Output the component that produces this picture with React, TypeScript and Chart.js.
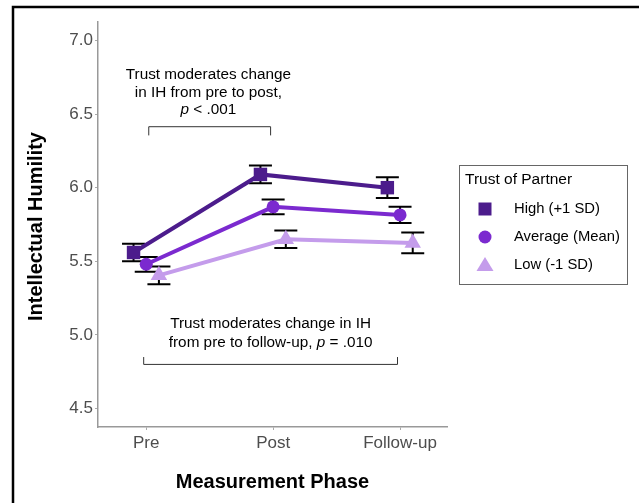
import React, { useEffect, useRef } from "react";
import { Chart, registerables } from "chart.js";

Chart.register(...registerables);

const phases = ["Pre", "Post", "Follow-up"];
const seriesNames = ["High (+1 SD)", "Average (Mean)", "Low (-1 SD)"];
const highMeans = [5.56, 6.09, 6.0];
const highErr = [0.06, 0.06, 0.07];
const avgMeans = [5.48, 5.87, 5.815];
const avgErr = [0.05, 0.05, 0.055];
const lowMeans = [5.405, 5.65, 5.625];
const lowErr = [0.06, 0.06, 0.07];
const yTicks = [4.5, 5.0, 5.5, 6.0, 6.5, 7.0];
const dodge = [-0.1, 0, 0.1];
const colors = ["#4C1C8C", "#7B2ACF", "#C49CEB"];
const pointStyles = ["rect", "circle", "triangle"];
const pointRadii = [9.5, 6.5, 9.5];

const FONT = "'Liberation Sans', Arial, sans-serif";

type Seg = { t: string; italic?: boolean };

function drawSegs(ctx: CanvasRenderingContext2D, segs: Seg[], cx: number, y: number, size: number) {
  const widths = segs.map((s) => {
    ctx.font = `${s.italic ? "italic " : ""}${size}px ${FONT}`;
    return ctx.measureText(s.t).width;
  });
  const total = widths.reduce((a, b) => a + b, 0);
  let x = cx - total / 2;
  ctx.textAlign = "left";
  ctx.textBaseline = "middle";
  segs.forEach((s, i) => {
    ctx.font = `${s.italic ? "italic " : ""}${size}px ${FONT}`;
    ctx.fillText(s.t, x, y);
    x += widths[i];
  });
}

export default function App() {
  const ref = useRef<HTMLCanvasElement | null>(null);

  useEffect(() => {
    if (!ref.current) return;
    const means = [highMeans, avgMeans, lowMeans];
    const errs = [highErr, avgErr, lowErr];

    const datasets = seriesNames.map((name, s) => ({
      label: name,
      data: means[s].map((v, i) => ({ x: i + 1 + dodge[s], y: v })),
      showLine: true,
      borderColor: colors[s],
      backgroundColor: colors[s],
      borderWidth: 4,
      pointStyle: pointStyles[s] as any,
      pointRadius: pointRadii[s],
      pointBorderWidth: 0,
      pointHoverRadius: pointRadii[s],
    }));

    const extras = {
      id: "extras",
      beforeDraw(chart: any) {
        const ctx = chart.ctx;
        ctx.save();
        ctx.fillStyle = "#ffffff";
        ctx.fillRect(0, 0, chart.width, chart.height);
        ctx.restore();
      },
      beforeDatasetsDraw(chart: any) {
        const ctx = chart.ctx;
        const xs = chart.scales.x;
        const ys = chart.scales.y;
        ctx.save();
        ctx.strokeStyle = "#000";
        ctx.lineWidth = 2;
        means.forEach((arr, s) => {
          arr.forEach((v, i) => {
            const px = xs.getPixelForValue(i + 1 + dodge[s]);
            const top = ys.getPixelForValue(v + errs[s][i]);
            const bot = ys.getPixelForValue(v - errs[s][i]);
            ctx.beginPath();
            ctx.moveTo(px, top);
            ctx.lineTo(px, bot);
            ctx.moveTo(px - 11.5, top);
            ctx.lineTo(px + 11.5, top);
            ctx.moveTo(px - 11.5, bot);
            ctx.lineTo(px + 11.5, bot);
            ctx.stroke();
          });
        });
        ctx.restore();
      },
      afterDraw(chart: any) {
        const ctx = chart.ctx;
        const xs = chart.scales.x;
        const ys = chart.scales.y;
        ctx.save();
        // frame
        ctx.strokeStyle = "#000";
        ctx.lineWidth = 2.5;
        ctx.beginPath();
        ctx.moveTo(13, chart.height + 5);
        ctx.lineTo(13, 7);
        ctx.lineTo(chart.width + 5, 7);
        ctx.stroke();

        // axis titles
        ctx.fillStyle = "#000";
        ctx.font = `bold 20px ${FONT}`;
        ctx.textAlign = "center";
        ctx.textBaseline = "middle";
        ctx.fillText("Measurement Phase", (xs.left + xs.right) / 2, 482);
        ctx.save();
        ctx.translate(36, (ys.top + ys.bottom) / 2 + 2);
        ctx.rotate(-Math.PI / 2);
        ctx.fillText("Intellectual Humility", 0, 0);
        ctx.restore();

        // brackets
        ctx.strokeStyle = "#333";
        ctx.lineWidth = 1;
        const b1l = xs.getPixelForValue(1.02);
        const b1r = xs.getPixelForValue(1.98);
        const b1t = ys.getPixelForValue(6.414);
        const b1b = ys.getPixelForValue(6.355);
        ctx.beginPath();
        ctx.moveTo(b1l, b1b);
        ctx.lineTo(b1l, b1t);
        ctx.lineTo(b1r, b1t);
        ctx.lineTo(b1r, b1b);
        ctx.stroke();
        const b2l = xs.getPixelForValue(0.98);
        const b2r = xs.getPixelForValue(2.98);
        const b2b = ys.getPixelForValue(4.8);
        const b2t = ys.getPixelForValue(4.85);
        ctx.beginPath();
        ctx.moveTo(b2l, b2t);
        ctx.lineTo(b2l, b2b);
        ctx.lineTo(b2r, b2b);
        ctx.lineTo(b2r, b2t);
        ctx.stroke();

        // annotation texts
        ctx.fillStyle = "#000";
        const c1 = xs.getPixelForValue(1.49);
        drawSegs(ctx, [{ t: "Trust moderates change" }], c1, 75, 15.3);
        drawSegs(ctx, [{ t: "in IH from pre to post," }], c1, 93, 15.3);
        drawSegs(ctx, [{ t: "p", italic: true }, { t: " < .001" }], c1, 110, 15.3);
        const c2 = xs.getPixelForValue(1.98);
        drawSegs(ctx, [{ t: "Trust moderates change in IH" }], c2, 324, 15.3);
        drawSegs(
          ctx,
          [{ t: "from pre to follow-up, " }, { t: "p", italic: true }, { t: " = .010" }],
          c2,
          343,
          15.3
        );

        // legend
        ctx.strokeStyle = "#666";
        ctx.lineWidth = 1;
        ctx.strokeRect(459.5, 165.5, 168, 119);
        ctx.fillStyle = "#000";
        ctx.font = `15.5px ${FONT}`;
        ctx.textAlign = "left";
        ctx.textBaseline = "middle";
        ctx.fillText("Trust of Partner", 465, 180);
        const ly = [209, 237, 265];
        seriesNames.forEach((name, s) => {
          ctx.fillStyle = colors[s];
          const mx = 485;
          const my = ly[s];
          ctx.beginPath();
          if (s === 0) {
            ctx.rect(mx - 6.5, my - 6.5, 13, 13);
          } else if (s === 1) {
            ctx.arc(mx, my, 6.5, 0, Math.PI * 2);
          } else {
            ctx.moveTo(mx, my - 8);
            ctx.lineTo(mx + 8.5, my + 6);
            ctx.lineTo(mx - 8.5, my + 6);
            ctx.closePath();
          }
          ctx.fill();
          ctx.fillStyle = "#000";
          ctx.font = `14.8px ${FONT}`;
          ctx.fillText(name, 514, my);
        });
        ctx.restore();
      },
    };

    const chart = new Chart(ref.current, {
      type: "scatter",
      data: { datasets: datasets as any },
      options: {
        animation: false,
        responsive: false,
        events: [],
        layout: { padding: { left: 0, right: 639 - 447, top: 22, bottom: 0 } },
        plugins: {
          legend: { display: false },
          tooltip: { enabled: false },
          title: { display: false },
        },
        scales: {
          x: {
            type: "linear",
            min: 0.62,
            max: 3.37,
            afterBuildTicks: (axis: any) => {
              axis.ticks = phases.map((_, i) => ({ value: i + 1 }));
            },
            afterFit: (axis: any) => {
              axis.height = 503 - 427;
            },
            ticks: {
              callback: (v: any) => phases[Math.round(Number(v)) - 1] ?? "",
              color: "#4d4d4d",
              font: { family: FONT, size: 17 },
              padding: 3,
              maxRotation: 0,
              autoSkip: false,
            },
            grid: {
              display: true,
              drawOnChartArea: false,
              drawTicks: true,
              tickLength: 3,
              color: "#aaa",
            },
            border: { display: true, color: "#999", width: 1.5 },
          },
          y: {
            type: "linear",
            min: 4.375,
            max: 7.125,
            afterBuildTicks: (axis: any) => {
              axis.ticks = yTicks.map((v) => ({ value: v }));
            },
            afterFit: (axis: any) => {
              axis.width = 98;
            },
            ticks: {
              callback: (v: any) => Number(v).toFixed(1),
              color: "#4d4d4d",
              font: { family: FONT, size: 17 },
              padding: 2,
            },
            grid: {
              display: true,
              drawOnChartArea: false,
              drawTicks: true,
              tickLength: 3,
              color: "#aaa",
            },
            border: { display: true, color: "#999", width: 1.5 },
          },
        },
      },
      plugins: [extras],
    });
    return () => chart.destroy();
  }, []);

  return (
    <div style={{ position: "fixed", left: 0, top: 0, width: 639, height: 503, background: "#fff" }}>
      <canvas ref={ref} width={639} height={503} style={{ display: "block" }} />
    </div>
  );
}
